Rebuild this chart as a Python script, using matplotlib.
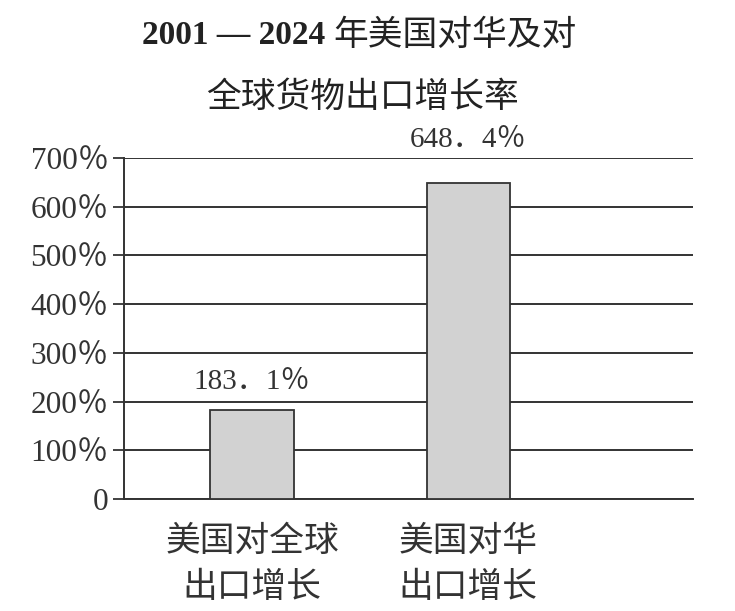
import matplotlib
matplotlib.use("Agg")
import matplotlib.pyplot as plt

# data
categories = ["美国对全球\n出口增长", "美国对华\n出口增长"]
growth = [183.1, 648.4]
value_labels = ["183．1％", "648．4％"]
yticks = [0, 100, 200, 300, 400, 500, 600, 700]
ytick_labels = ["0"] + [f"{v}％" for v in yticks[1:]]

serif = ["Liberation Serif", "Noto Sans CJK SC", "DejaVu Sans"]
cjk = ["Noto Sans CJK SC", "DejaVu Sans"]

fig = plt.figure(figsize=(7.35, 6.11), dpi=100)
ax = fig.add_axes([124 / 735, 1 - 499 / 611, (693 - 124) / 735, 341 / 611])

x = [0, 1]
ax.bar(x, growth, width=0.386, color="#d2d2d2", edgecolor="#333333",
       linewidth=1.3, zorder=3)

ax.set_xlim(-0.593, 2.04)
ax.set_ylim(0, 700)
ax.set_yticks(yticks)
ax.set_yticklabels(ytick_labels, family=serif, fontsize=22.5, color="#333333")
ax.yaxis.grid(True, color="#333333", linewidth=1.4, zorder=0)
ax.tick_params(axis="y", length=8, width=1.3, color="#333333", pad=3)
ax.tick_params(axis="x", length=0, pad=18)
ax.set_xticks(x)
ax.set_xticklabels(categories, family=cjk, fontsize=25, color="#333333",
                   linespacing=1.4)

for side in ["top", "right"]:
    ax.spines[side].set_visible(False)
ax.spines["left"].set_color("#333333")
ax.spines["left"].set_linewidth(1.4)
ax.spines["bottom"].set_color("#333333")
ax.spines["bottom"].set_linewidth(1.4)

# value labels above bars
offsets = [11, 22]
for xi, v, lab, off in zip(x, growth, value_labels, offsets):
    ax.annotate(lab, (xi, v), xytext=(0, off), textcoords="offset points",
                ha="center", va="bottom", family=serif, fontsize=21,
                color="#333333")

# title
fig.text(325 / 735, 1 - 35 / 611, "2001 — 2024", ha="right", va="center",
         family=serif, fontsize=24, fontweight="bold", color="#222222")
fig.text(333 / 735, 1 - 35 / 611, "年美国对华及对", ha="left", va="center",
         family=cjk, fontsize=25, color="#222222")
fig.text(362 / 735, 1 - 97 / 611, "全球货物出口增长率", ha="center", va="center",
         family=cjk, fontsize=25, color="#222222")

fig.savefig("out.png", dpi=100)
